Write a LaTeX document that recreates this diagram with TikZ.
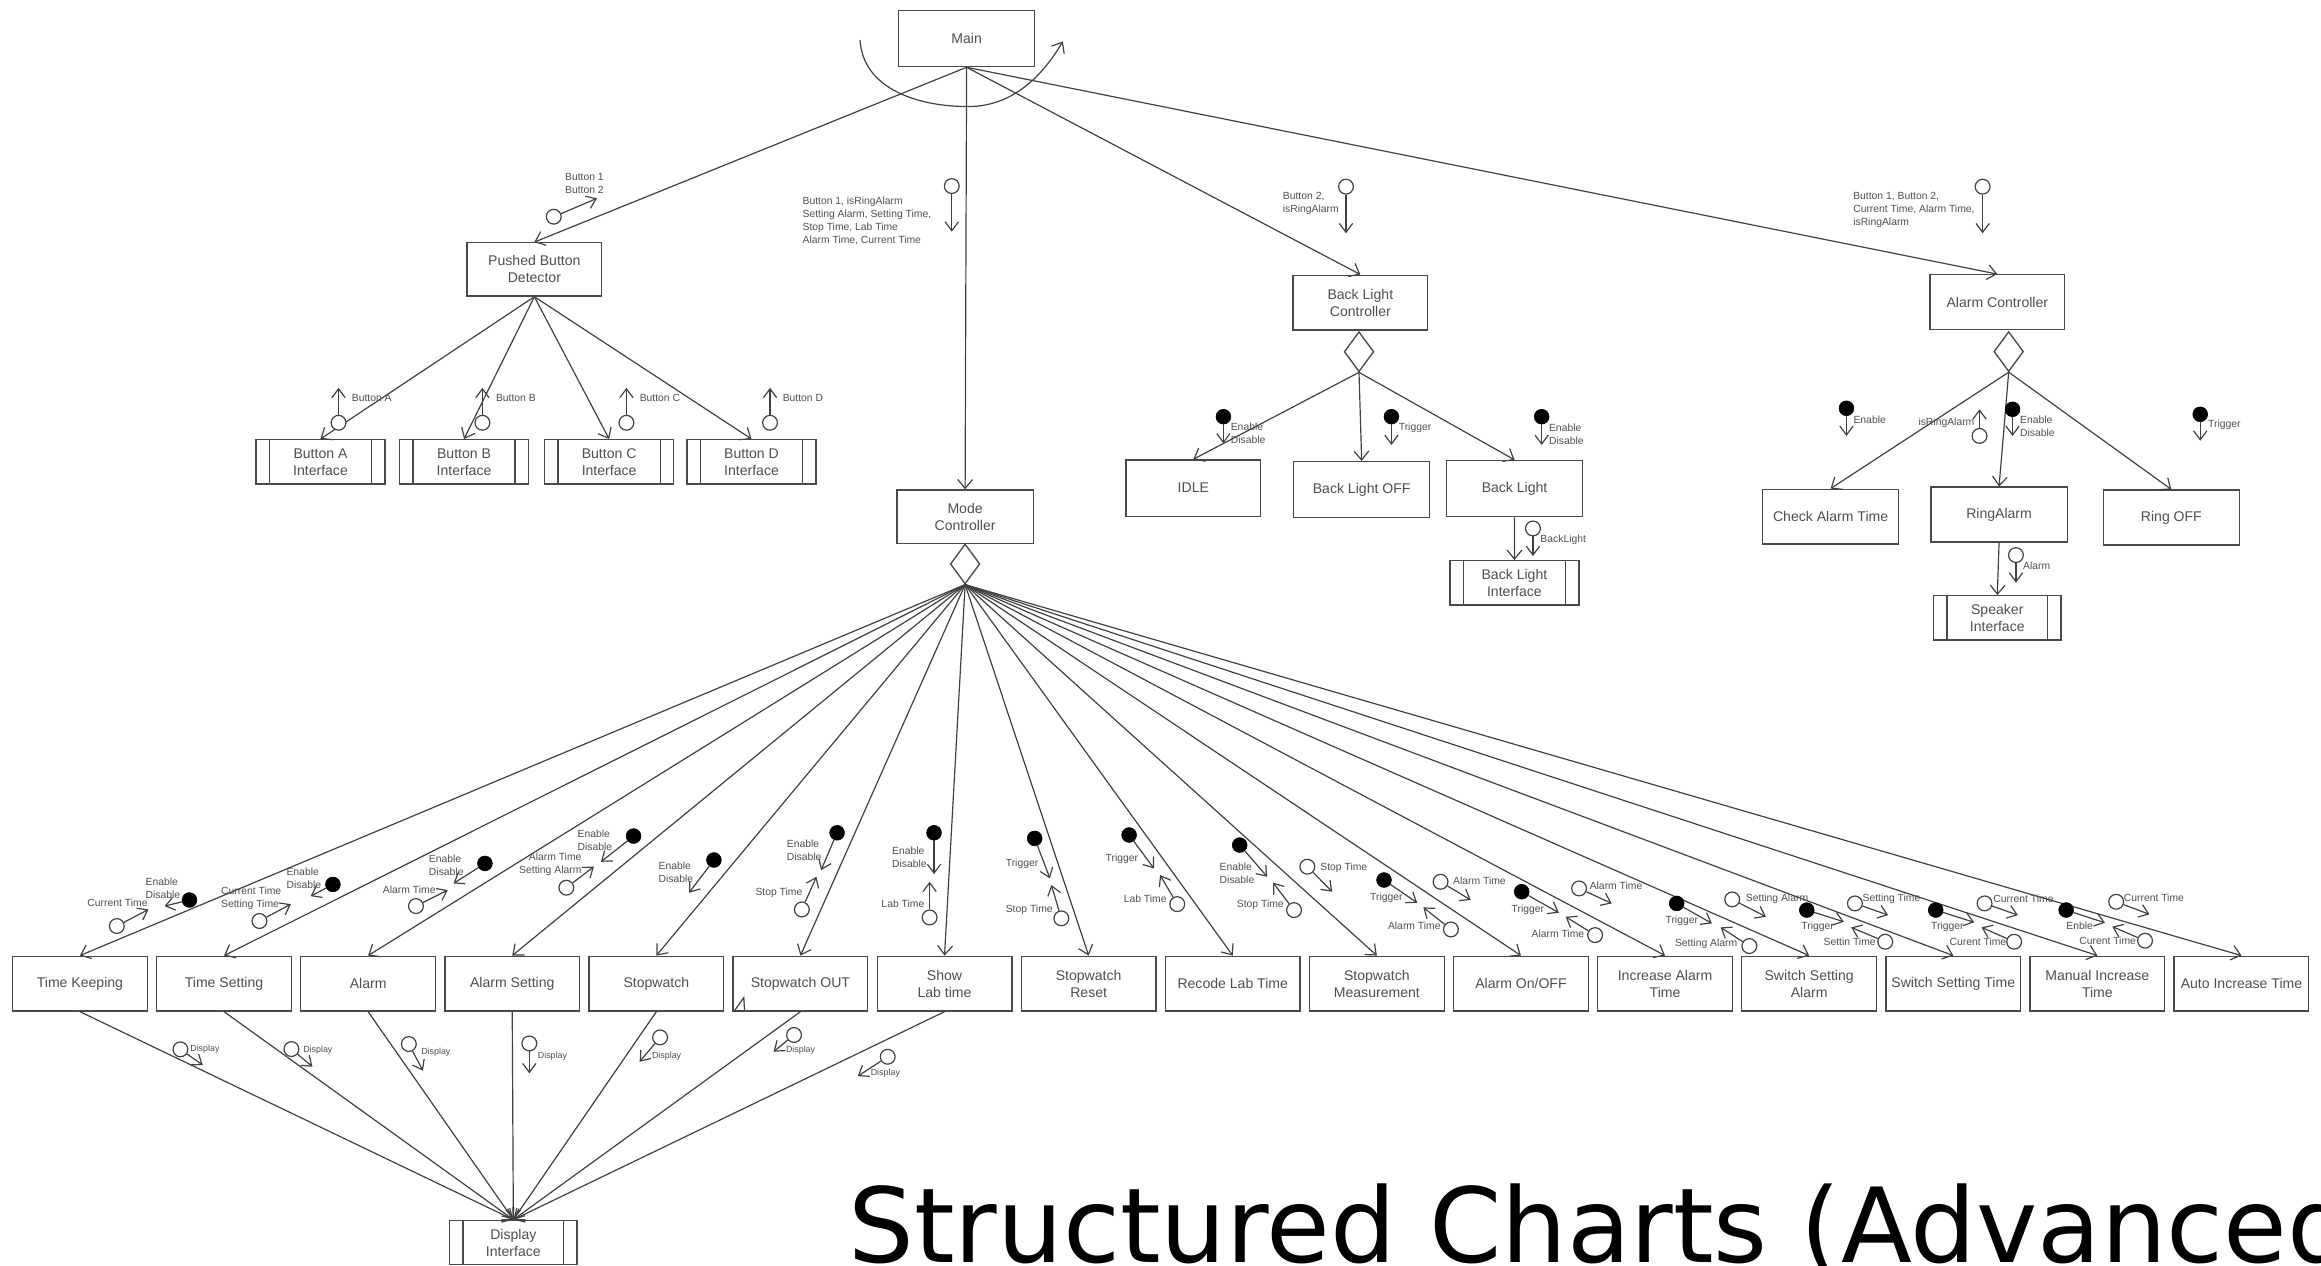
\documentclass[tikz,border=0pt]{standalone}
\usepackage{fontspec}
\setmainfont{Liberation Sans}
\newfontfamily\titlefont{DejaVu Sans}
\usetikzlibrary{arrows.meta,shapes.geometric}
\definecolor{linec}{HTML}{404040}
\definecolor{boxc}{HTML}{4A4A4A}
\definecolor{txtc}{HTML}{505050}
\newcommand\cpl[4]{\node[#2] (#1) at (#3) {}; \coordinate (#1t) at (#4); \draw[cplarr] (#1) -- (#1t);}
\begin{document}
\begin{tikzpicture}[x=1pt,y=-1pt,
 box/.style={draw=boxc,line width=0.9pt,rectangle,minimum width=91pt,minimum height=37pt,inner sep=1pt,align=center,text=txtc,font=\fontsize{9.5}{11.5}\selectfont},
 iface/.style={box,minimum width=86pt,minimum height=30pt,path picture={
   \draw[boxc,line width=0.9pt] ([xshift=9pt]path picture bounding box.north west) -- ([xshift=9pt]path picture bounding box.south west);
   \draw[boxc,line width=0.9pt] ([xshift=-9pt]path picture bounding box.north east) -- ([xshift=-9pt]path picture bounding box.south east);}},
 dia/.style={draw=boxc,line width=0.9pt,diamond,minimum width=20pt,minimum height=27pt,inner sep=0pt},
 conn/.style={draw=linec,line width=0.8pt,-{Straight Barb[length=6pt,width=10pt]}},
 cplarr/.style={draw=linec,line width=0.8pt,-{Straight Barb[length=6pt,width=9pt]}},
 ocirc/.style={circle,draw=linec,line width=0.8pt,fill=white,minimum size=10pt,inner sep=0pt},
 fcirc/.style={circle,draw=black,fill=black,minimum size=10pt,inner sep=0pt},
 lab/.style={inner sep=0pt,align=left,text=txtc,font=\fontsize{7}{8.8}\selectfont,anchor=west},
 dlab/.style={lab,font=\fontsize{6}{7}\selectfont}]
\fill[white] (0,0) rectangle (1568,855);
\useasboundingbox (0,0) rectangle (1568,855);

% ---------- top level ----------
\node[box,minimum width=92pt,minimum height=38pt] (main) at (653,26) {Main};
\coordinate (arcs) at (581,27);
\coordinate (arcm) at (654,72);
\coordinate (arce) at (718,28);
\draw[conn] (arcs) .. controls (583,60) and (620,72) .. (arcm) .. controls (685,72) and (705,50) .. (arce);

\node[box,minimum height=36pt] (pbd) at (361,182) {Pushed Button\\Detector};
\node[box,minimum width=92pt,minimum height=36pt] (mode) at (652,349) {Mode\\Controller};
\node[box] (blc) at (919,204.4) {Back Light\\Controller};
\node[box] (ac) at (1349.3,204.1) {Alarm Controller};

\draw[conn] (main.south) -- (pbd.north);
\draw[conn] (main.south) -- (mode.north);
\draw[conn] (main.south) -- (blc.north);
\draw[conn] (main.south) -- (ac.north);

% ---------- pushed button detector ----------
\node[iface,minimum width=87pt] (ba) at (216.5,312) {Button A\\Interface};
\node[iface,minimum width=87pt] (bb) at (313.5,312) {Button B\\Interface};
\node[iface,minimum width=87pt] (bc) at (411.5,312) {Button C\\Interface};
\node[iface,minimum width=87pt] (bd) at (507.7,312) {Button D\\Interface};
\foreach \n in {ba,bb,bc,bd} \draw[conn] (pbd.south) -- (\n.north);

% ---------- back light controller ----------
\node[dia] (bldia) at (918.1,237.6) {};
\node[box,minimum height=38pt] (idle) at (806.2,329.7) {IDLE};
\node[box,minimum width=92pt,minimum height=38pt] (bloff) at (919.9,330.8) {Back Light OFF};
\node[box,minimum width=92pt,minimum height=38pt] (bl) at (1023.2,330.1) {Back Light};
\node[iface,minimum width=87pt] (bli) at (1023.1,393.7) {Back Light\\Interface};
\foreach \n in {idle,bloff,bl} \draw[conn] (bldia.south) -- (\n.north);
\draw[conn] (bl.south) -- (bli.north);

% ---------- alarm controller ----------
\node[dia] (acdia) at (1357,237.5) {};
\node[box,minimum width=92pt] (cat) at (1236.7,349) {Check Alarm Time};
\node[box,minimum width=92pt] (ring) at (1350.5,347.6) {RingAlarm};
\node[box,minimum width=92pt] (roff) at (1466.9,349.6) {Ring OFF};
\node[iface] (spk) at (1349.3,417.4) {Speaker\\Interface};
\foreach \n in {cat,ring,roff} \draw[conn] (acdia.south) -- (\n.north);
\draw[conn] (ring.south) -- (spk.north);

% ---------- mode controller ----------
\node[dia] (mdia) at (652,381) {};
\foreach \i/\t in {1/{Time Keeping},2/{Time Setting},3/{Alarm},4/{Alarm Setting},5/{Stopwatch},6/{Stopwatch OUT},7/{Show\\Lab time},8/{Stopwatch\\Reset},9/{Recode Lab Time},10/{Stopwatch\\Measurement},11/{Alarm On/OFF},12/{Increase Alarm\\Time},13/{Switch Setting\\Alarm},14/{Switch Setting Time},15/{Manual Increase\\Time},16/{Auto Increase Time}}
  \node[box] (b\i) at ({54+97.35*(\i-1)},664.5) {\t};
\foreach \i in {1,...,16} \draw[conn] (mdia.south) -- (b\i.north);

\node[iface] (disp) at (346.8,839.4) {Display\\Interface};
\foreach \i in {1,...,7} \draw[conn] (b\i.south) -- (disp.north);
\coordinate (tra) at (496,683);
\coordinate (trb) at (502.5,674);
\coordinate (trc) at (503,683);
\draw[linec,line width=0.8pt] (tra) -- (trb) -- (trc) -- cycle;

% ---------- data couples, top ----------
\cpl{ca}{ocirc}{374.1,146.4}{403.3,134}
\node[lab] (la) at (381.6,123.9) {Button 1\\Button 2};
\cpl{cb}{ocirc}{643,125.7}{643,156.5}
\node[lab] (lb) at (542,149.4) {Button 1, isRingAlarm\\Setting Alarm, Setting Time,\\Stop Time, Lab Time\\Alarm Time, Current Time};
\cpl{cc}{ocirc}{909.3,126.1}{909.3,157.6}
\node[lab] (lc) at (866.5,137.5) {Button 2,\\isRingAlarm};
\cpl{cd}{ocirc}{1339.4,126.1}{1339.4,157.6}
\node[lab] (ld) at (1251.8,142) {Button 1, Button 2,\\Current Time, Alarm Time,\\isRingAlarm};

\cpl{cba}{ocirc}{228.7,285.6}{228.7,262}
\node[lab] (lba) at (237.5,269) {Button A};
\cpl{cbb}{ocirc}{325.9,285.6}{325.9,262}
\node[lab] (lbb) at (334.9,269) {Button B};
\cpl{cbc}{ocirc}{423.2,285.6}{423.2,262}
\node[lab] (lbc) at (432,269) {Button C};
\cpl{cbd}{ocirc}{520.2,285.6}{520.2,262}
\node[lab] (lbd) at (528.6,269) {Button D};

\cpl{ci}{fcirc}{826.5,281.5}{826.5,299.5}
\node[lab] (li) at (831.3,292.7) {Enable\\Disable};
\cpl{co}{fcirc}{940,281.5}{940,300.6}
\node[lab] (lo) at (944.8,288.9) {Trigger};
\cpl{cl}{fcirc}{1041.5,281.5}{1041.5,300.6}
\node[lab] (ll) at (1046.3,293.4) {Enable\\Disable};
\cpl{cbl}{ocirc}{1035.6,357}{1035.6,375.6}
\node[lab] (lbl) at (1040.5,364.4) {BackLight};

\cpl{cca}{fcirc}{1247.4,275.8}{1247.4,294.5}
\node[lab] (lca) at (1252,283.3) {Enable};
\cpl{cir}{ocirc}{1337.3,294.5}{1337.3,276.5}
\node[lab,anchor=east] (lir) at (1334,285.5) {isRingAlarm};
\cpl{cra}{fcirc}{1359.6,276.5}{1359.6,294.5}
\node[lab] (lra) at (1364.5,287.8) {Enable\\Disable};
\cpl{cro}{fcirc}{1486.4,279.9}{1486.4,297.7}
\node[lab] (lro) at (1491.6,287.1) {Trigger};
\cpl{cal}{ocirc}{1361.9,375}{1361.9,393.6}
\node[lab] (lal) at (1366.6,382.4) {Alarm};

% ---------- data couples, bottom row ----------
\cpl{k1a}{fcirc}{128,608}{111.2,612.1}
\node[lab] (m1a) at (98.2,599.9) {Enable\\Disable};
\cpl{k1b}{ocirc}{78.9,625.6}{100.3,614.4}
\node[lab] (m1b) at (58.9,609.9) {Current Time};

\cpl{k2a}{fcirc}{224.9,597.5}{209.9,605.4}
\node[lab] (m2a) at (193.4,593.5) {Enable\\Disable};
\cpl{k2b}{ocirc}{175.3,622.2}{196.5,610.8}
\node[lab] (m2b) at (149.2,606.9) {Current Time\\Setting Time};

\cpl{k3a}{fcirc}{327.6,583.3}{306.4,596.8}
\node[lab] (m3a) at (289.6,584.7) {Enable\\Disable};
\cpl{k3b}{ocirc}{281,612.1}{302.5,601.3}
\node[lab] (m3b) at (258.5,601.3) {Alarm Time};

\cpl{k4a}{fcirc}{428,564.8}{406,582.2}
\node[lab] (m4a) at (390,567.5) {Enable\\Disable};
\cpl{k4b}{ocirc}{382.6,599.7}{401.2,585.5}
\node[lab,anchor=east,align=right] (m4b) at (393,583.7) {Alarm Time\\Setting Alarm};

\cpl{k5a}{fcirc}{482.3,581}{465.5,603.1}
\node[lab] (m5a) at (444.8,589.1) {Enable\\Disable};

\cpl{k6a}{fcirc}{565.5,562.6}{554.7,587.8}
\node[lab] (m6a) at (531.4,574.5) {Enable\\Disable};
\cpl{k6b}{ocirc}{541.7,614.4}{551.6,592.3}
\node[lab] (m6b) at (510.2,603.1) {Stop Time};

\cpl{k7a}{fcirc}{631,562.6}{631,590.5}
\node[lab] (m7a) at (602.5,579) {Enable\\Disable};
\cpl{k7b}{ocirc}{628,619.8}{628,595.7}
\node[lab] (m7b) at (595.3,610.3) {Lab Time};

\cpl{k8a}{fcirc}{699,566.4}{709.3,593.4}
\node[lab] (m8a) at (679.3,583.3) {Trigger};
\cpl{k8b}{ocirc}{717,620.4}{710.3,597.9}
\node[lab] (m8b) at (679.3,614.8) {Stop Time};

\cpl{k9a}{fcirc}{762.8,564.1}{779.6,586.7}
\node[lab] (m9a) at (746.8,579.9) {Trigger};
\cpl{k9b}{ocirc}{795.3,610.8}{783.7,591.2}
\node[lab] (m9b) at (759,606.9) {Lab Time};

\cpl{k10a}{fcirc}{837.5,570.9}{856.1,592.3}
\node[lab] (m10a) at (823.8,590) {Enable\\Disable};
\cpl{k10b}{ocirc}{874.2,614.8}{860,596.3}
\node[lab] (m10b) at (835.4,611) {Stop Time};
\cpl{k10c}{ocirc}{883.2,585.5}{900,602.4}
\node[lab] (m10c) at (891.8,586.2) {Stop Time};

\cpl{k11a}{fcirc}{935,594.5}{957.4,609.9}
\node[lab] (m11a) at (925.4,606.3) {Trigger};
\cpl{k11b}{ocirc}{980.2,627.9}{961.6,613}
\node[lab] (m11b) at (937.5,625.6) {Alarm Time};
\cpl{k11c}{ocirc}{973.2,595.7}{993.6,608}
\node[lab] (m11c) at (981.5,595) {Alarm Time};

\cpl{k12a}{fcirc}{1028,602.4}{1053.1,616.6}
\node[lab] (m12a) at (1021,614.8) {Trigger};
\cpl{k12b}{ocirc}{1077.6,631.7}{1057.7,619.3}
\node[lab] (m12b) at (1034.5,630.6) {Alarm Time};
\cpl{k12c}{ocirc}{1066.8,600.2}{1088.8,610.3}
\node[lab] (m12c) at (1073.8,598.4) {Alarm Time};

\cpl{k13a}{fcirc}{1132.7,610.3}{1156.5,623.8}
\node[lab] (m13a) at (1125,622) {Trigger};
\cpl{k13b}{ocirc}{1181.8,639.1}{1162.4,626.5}
\node[lab] (m13b) at (1131.4,637.8) {Setting Alarm};
\cpl{k13c}{ocirc}{1170.2,607.6}{1193,619.3}
\node[lab] (m13c) at (1179.3,606.9) {Setting Alarm};

\cpl{k14a}{fcirc}{1220.6,614.8}{1245.6,622.7}
\node[lab] (m14a) at (1216.8,626) {Trigger};
\cpl{k14b}{ocirc}{1273.6,636.2}{1250.6,626.5}
\node[lab] (m14b) at (1231.8,636.2) {Settin Time};
\cpl{k14c}{ocirc}{1253.1,610.3}{1275.6,618.2}
\node[lab] (m14c) at (1258.1,607.4) {Setting Time};

\cpl{k15a}{fcirc}{1307.7,614.8}{1333.7,623.1}
\node[lab] (m15a) at (1304.4,626) {Trigger};
\cpl{k15b}{ocirc}{1360.7,636.2}{1338.7,626.5}
\node[lab] (m15b) at (1316.9,636.2) {Curent Time};
\cpl{k15c}{ocirc}{1340.7,610.3}{1363.2,618.2}
\node[lab] (m15c) at (1346.5,607.4) {Current Time};

\cpl{k16a}{fcirc}{1395.8,614.8}{1422,623.4}
\node[lab] (m16a) at (1395.8,625.6) {Enble};
\cpl{k16b}{ocirc}{1449.1,635.5}{1427,626}
\node[lab] (m16b) at (1404.5,635.5) {Curent Time};
\cpl{k16c}{ocirc}{1429.6,609.2}{1452.1,617.7}
\node[lab] (m16c) at (1434.6,606.5) {Current Time};

% ---------- display couples ----------
\cpl{d1}{ocirc}{121.9,708.9}{137,719.5}
\node[dlab] (e1) at (128.4,708.7) {Display};
\cpl{d2}{ocirc}{196.9,708.7}{211.1,720.6}
\node[dlab] (e2) at (204.7,709.4) {Display};
\cpl{d3}{ocirc}{276.2,705.3}{285.7,723.3}
\node[dlab] (e3) at (284.4,710.5) {Display};
\cpl{d4}{ocirc}{357.6,704.9}{357.6,725.1}
\node[dlab] (e4) at (363.2,713.4) {Display};
\cpl{d5}{ocirc}{445.9,700.8}{432.1,717.3}
\node[dlab] (e5) at (440.3,713.4) {Display};
\cpl{d6}{ocirc}{536.4,699.2}{522.6,710.5}
\node[dlab] (e6) at (530.8,709.4) {Display};
\cpl{d7}{ocirc}{599.7,713.9}{579.5,727}
\node[dlab] (e7) at (588.1,724.7) {Display};

% ---------- title ----------
\node[anchor=base west,inner sep=0pt,font=\titlefont\fontsize{70}{80}\selectfont] (title) at (573,853) {Structured Charts (Advanced};
\end{tikzpicture}
\end{document}
